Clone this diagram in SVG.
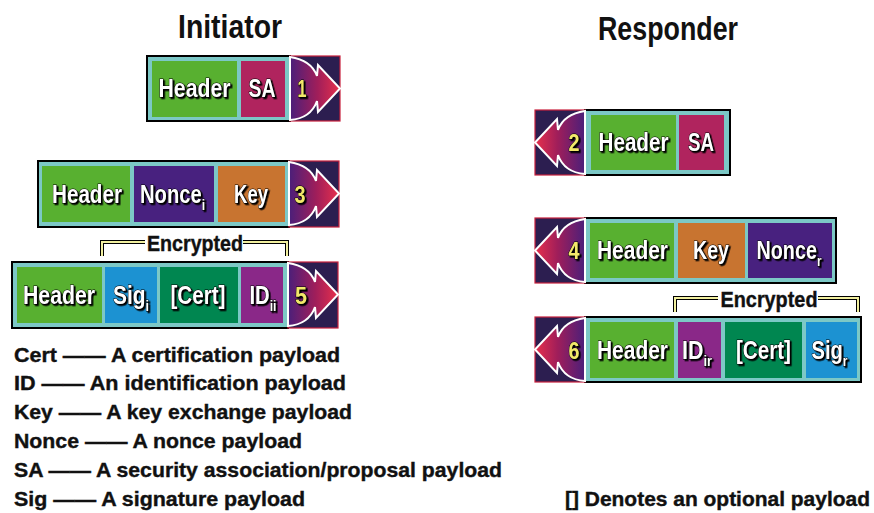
<svg xmlns="http://www.w3.org/2000/svg" width="874" height="513" viewBox="0 0 874 513">
  <style>
    text { font-family: "Liberation Sans", Arial, sans-serif; font-weight: bold; }
    .title { font-size: 34px; fill: #111; text-anchor: middle; }
    .legend { font-size: 21px; fill: #111; stroke: #111; stroke-width: 0.4px; }
    .enc { font-size: 22px; fill: #111; text-anchor: middle; stroke: #111; stroke-width: 0.4px; }
    .cell-label { font-size: 25px; fill: #fff; text-anchor: middle; stroke: #000; stroke-width: 1px; paint-order: stroke; filter: url(#shadow); }
    .num { font-size: 23px; fill: #f2e86a; text-anchor: middle; stroke: #000; stroke-width: 1px; paint-order: stroke; filter: url(#shadow); }
    .sub { font-size: 15px; }
    .frame { fill: #7cc8c6; stroke: #000; stroke-width: 2; }
    .arrowbox { fill: #2c1e50; stroke: #c8203c; stroke-width: 1.2; }
    .swoosh { fill: url(#swooshGrad); stroke: #fff; stroke-width: 2; stroke-linejoin: miter; }
    .header { fill: #58b030; }
    .sa { fill: #b0245e; }
    .nonce { fill: #48217f; }
    .key { fill: #c87430; }
    .sig { fill: #1c92d2; }
    .cert { fill: #008650; }
    .id { fill: #8a2888; }
    .bracket-bg { fill: none; stroke: #000; stroke-width: 4; }
    .bracket { fill: none; stroke: #f2f0a0; stroke-width: 2; }
  </style>
  <defs>
    <filter id="shadow" x="-10%" y="-10%" width="130%" height="140%">
      <feDropShadow dx="1.6" dy="1.6" stdDeviation="0" flood-color="#000" flood-opacity="1"/>
    </filter>
    <linearGradient id="swooshGrad" x1="0" y1="0" x2="1" y2="0">
      <stop offset="0" stop-color="#4a1f7a"/>
      <stop offset="0.55" stop-color="#a01e5a"/>
      <stop offset="1" stop-color="#e8304c"/>
    </linearGradient>
    <!-- right-pointing swoosh arrow in a 50x65 box -->
    <path id="swoosh" class="swoosh" d="M0,1 C14,3 23,9 27,20 L28,9 L50,32.5 L28,56 L27,45 C23,56 14,63 0,64 Z"/>
  </defs>

  <!-- column titles -->
  <text class="title" x="230" y="38" textLength="104" lengthAdjust="spacingAndGlyphs">Initiator</text>
  <text class="title" x="668" y="40" textLength="140" lengthAdjust="spacingAndGlyphs">Responder</text>

  <!-- message 1: initiator -> responder -->
  <g id="msg1">
    <rect class="frame" x="147" y="56" width="143" height="65"/>
    <rect class="header" x="152" y="61" width="85" height="56"/>
    <rect class="sa" x="241" y="61" width="44" height="56"/>
    <text class="cell-label" x="194.5" y="97" textLength="72" lengthAdjust="spacingAndGlyphs">Header</text>
    <text class="cell-label" x="262" y="97" textLength="27" lengthAdjust="spacingAndGlyphs">SA</text>
    <rect class="arrowbox" x="290" y="56" width="50" height="65"/>
    <use href="#swoosh" transform="translate(290,56)"/>
    <text class="num" x="302" y="97" textLength="9" lengthAdjust="spacingAndGlyphs">1</text>
  </g>

  <!-- message 2: responder -> initiator -->
  <g id="msg2">
    <rect class="frame" x="585" y="110" width="145" height="65"/>
    <rect class="header" x="591" y="115" width="85" height="55"/>
    <rect class="sa" x="679" y="115" width="45" height="55"/>
    <text class="cell-label" x="633.5" y="151" textLength="70" lengthAdjust="spacingAndGlyphs">Header</text>
    <text class="cell-label" x="701" y="151" textLength="26" lengthAdjust="spacingAndGlyphs">SA</text>
    <rect class="arrowbox" x="535" y="110" width="50" height="65"/>
    <use href="#swoosh" transform="translate(585,110) scale(-1,1)"/>
    <text class="num" x="574" y="151" textLength="11" lengthAdjust="spacingAndGlyphs">2</text>
  </g>

  <!-- message 3 -->
  <g id="msg3">
    <rect class="frame" x="38" y="161" width="251" height="66"/>
    <rect class="header" x="42" y="166" width="88" height="56"/>
    <rect class="nonce" x="134" y="166" width="80" height="56"/>
    <rect class="key" x="218" y="166" width="67" height="56"/>
    <text class="cell-label" x="87" y="203" textLength="70" lengthAdjust="spacingAndGlyphs">Header</text>
    <text class="cell-label" x="172.5" y="203" textLength="65" lengthAdjust="spacingAndGlyphs">Nonce<tspan class="sub" dy="7">i</tspan></text>
    <text class="cell-label" x="251" y="203" textLength="34" lengthAdjust="spacingAndGlyphs">Key</text>
    <rect class="arrowbox" x="289" y="161" width="50" height="66"/>
    <use href="#swoosh" transform="translate(289,161)"/>
    <text class="num" x="300" y="203" textLength="11" lengthAdjust="spacingAndGlyphs">3</text>
  </g>

  <!-- message 4 -->
  <g id="msg4">
    <rect class="frame" x="585" y="218" width="251" height="65"/>
    <rect class="header" x="590" y="223" width="84" height="55"/>
    <rect class="key" x="678" y="223" width="67" height="55"/>
    <rect class="nonce" x="748" y="223" width="84" height="55"/>
    <text class="cell-label" x="632.5" y="259" textLength="71" lengthAdjust="spacingAndGlyphs">Header</text>
    <text class="cell-label" x="711" y="259" textLength="36" lengthAdjust="spacingAndGlyphs">Key</text>
    <text class="cell-label" x="789" y="259" textLength="65" lengthAdjust="spacingAndGlyphs">Nonce<tspan class="sub" dy="7">r</tspan></text>
    <rect class="arrowbox" x="535" y="218" width="50" height="65"/>
    <use href="#swoosh" transform="translate(585,218) scale(-1,1)"/>
    <text class="num" x="574" y="259" textLength="11" lengthAdjust="spacingAndGlyphs">4</text>
  </g>

  <!-- message 5 -->
  <g id="msg5">
    <path class="bracket-bg" d="M102,256 V242 H145 M243,242 H287 V256"/>
    <path class="bracket" d="M102,256 V242 H145 M243,242 H287 V256"/>
    <text class="enc" x="195" y="251" textLength="96" lengthAdjust="spacingAndGlyphs">Encrypted</text>
    <rect class="frame" x="12" y="262" width="276" height="66"/>
    <rect class="header" x="17" y="267" width="85" height="56"/>
    <rect class="sig" x="105" y="267" width="52" height="56"/>
    <rect class="cert" x="160" y="267" width="78" height="56"/>
    <rect class="id" x="241" y="267" width="42" height="56"/>
    <text class="cell-label" x="59" y="304" textLength="72" lengthAdjust="spacingAndGlyphs">Header</text>
    <text class="cell-label" x="131" y="304" textLength="36" lengthAdjust="spacingAndGlyphs">Sig<tspan class="sub" dy="7">i</tspan></text>
    <text class="cell-label" x="198" y="304" textLength="55" lengthAdjust="spacingAndGlyphs">[Cert]</text>
    <text class="cell-label" x="263" y="304" textLength="27" lengthAdjust="spacingAndGlyphs">ID<tspan class="sub" dy="7">ii</tspan></text>
    <rect class="arrowbox" x="288" y="262" width="50" height="66"/>
    <use href="#swoosh" transform="translate(288,262)"/>
    <text class="num" x="301" y="304" textLength="12" lengthAdjust="spacingAndGlyphs">5</text>
  </g>

  <!-- message 6 -->
  <g id="msg6">
    <path class="bracket-bg" d="M675,312 V298 H718 M818,298 H858 V312"/>
    <path class="bracket" d="M675,312 V298 H718 M818,298 H858 V312"/>
    <text class="enc" x="769" y="307" textLength="97" lengthAdjust="spacingAndGlyphs">Encrypted</text>
    <rect class="frame" x="585" y="317" width="276" height="65"/>
    <rect class="header" x="590" y="322" width="84" height="56"/>
    <rect class="id" x="678" y="322" width="43" height="56"/>
    <rect class="cert" x="725" y="322" width="77" height="56"/>
    <rect class="sig" x="806" y="322" width="51" height="56"/>
    <text class="cell-label" x="632.5" y="359" textLength="71" lengthAdjust="spacingAndGlyphs">Header</text>
    <text class="cell-label" x="697" y="359" textLength="30" lengthAdjust="spacingAndGlyphs">ID<tspan class="sub" dy="7">ir</tspan></text>
    <text class="cell-label" x="763.5" y="359" textLength="55" lengthAdjust="spacingAndGlyphs">[Cert]</text>
    <text class="cell-label" x="829.5" y="359" textLength="36" lengthAdjust="spacingAndGlyphs">Sig<tspan class="sub" dy="7">r</tspan></text>
    <rect class="arrowbox" x="535" y="317" width="50" height="65"/>
    <use href="#swoosh" transform="translate(585,317) scale(-1,1)"/>
    <text class="num" x="574" y="359" textLength="11" lengthAdjust="spacingAndGlyphs">6</text>
  </g>

  <!-- legend -->
  <g id="legend">
    <text class="legend" x="14" y="362" textLength="326" lengthAdjust="spacingAndGlyphs">Cert —— A certification payload</text>
    <text class="legend" x="14" y="390" textLength="332" lengthAdjust="spacingAndGlyphs">ID —— An identification payload</text>
    <text class="legend" x="14" y="419" textLength="338" lengthAdjust="spacingAndGlyphs">Key —— A key exchange payload</text>
    <text class="legend" x="14" y="448" textLength="288" lengthAdjust="spacingAndGlyphs">Nonce —— A nonce payload</text>
    <text class="legend" x="14" y="477" textLength="488" lengthAdjust="spacingAndGlyphs">SA —— A security association/proposal payload</text>
    <text class="legend" x="14" y="506" textLength="291" lengthAdjust="spacingAndGlyphs">Sig —— A signature payload</text>
    <text class="legend" x="565" y="506" textLength="305" lengthAdjust="spacingAndGlyphs">[] Denotes an optional payload</text>
  </g>
</svg>
